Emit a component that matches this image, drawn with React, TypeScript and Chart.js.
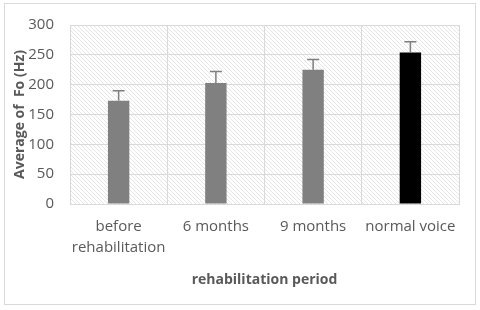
import React, { useEffect, useRef } from "react";
import { Chart, registerables } from "chart.js";

Chart.register(...registerables);

const categories: (string | string[])[] = [["before", "rehabilitation"], "6 months", "9 months", "normal voice"];
const means = [173, 203, 225, 254];
const errorTops = [190, 222, 242, 272];
const barColors = ["#808080", "#808080", "#808080", "#000000"];
const yTicks = [0, 50, 100, 150, 200, 250, 300];

const FONT = "'Open Sans', sans-serif";

function makeHatch(ctx: CanvasRenderingContext2D) {
  const c = document.createElement("canvas");
  c.width = 4;
  c.height = 4;
  const g = c.getContext("2d")!;
  g.fillStyle = "#ffffff";
  g.fillRect(0, 0, 4, 4);
  g.strokeStyle = "#e6e6e6";
  g.lineWidth = 1;
  g.beginPath();
  g.moveTo(0, 0);
  g.lineTo(4, 4);
  g.moveTo(-1, 3);
  g.lineTo(1, 5);
  g.moveTo(3, -1);
  g.lineTo(5, 1);
  g.stroke();
  return ctx.createPattern(c, "repeat");
}

const bgPlugin = {
  id: "bgPlugin",
  beforeDraw(chart: any) {
    const { ctx, chartArea } = chart;
    ctx.save();
    ctx.fillStyle = "#ffffff";
    ctx.fillRect(0, 0, chart.width, chart.height);
    ctx.strokeStyle = "#d9d9d9";
    ctx.lineWidth = 1;
    ctx.strokeRect(4.5, 3.5, 471, 301);
    const p = makeHatch(ctx);
    if (p) {
      ctx.fillStyle = p;
      ctx.fillRect(chartArea.left, chartArea.top, chartArea.right - chartArea.left, chartArea.bottom - chartArea.top);
    }
    ctx.restore();
  },
};

const errPlugin = {
  id: "errPlugin",
  afterDatasetsDraw(chart: any) {
    const { ctx } = chart;
    const meta = chart.getDatasetMeta(0);
    const ys = chart.scales.y;
    ctx.save();
    ctx.strokeStyle = "#7f7f7f";
    ctx.lineWidth = 1.5;
    meta.data.forEach((bar: any, i: number) => {
      const x = bar.x;
      const y0 = ys.getPixelForValue(means[i]);
      const y1 = ys.getPixelForValue(errorTops[i]);
      ctx.beginPath();
      ctx.moveTo(x, y0);
      ctx.lineTo(x, y1);
      ctx.moveTo(x - 6, y1);
      ctx.lineTo(x + 6, y1);
      ctx.stroke();
    });
    ctx.restore();
  },
};

export default function App() {
  const ref = useRef<HTMLCanvasElement>(null);
  useEffect(() => {
    const chart = new Chart(ref.current!, {
      type: "bar",
      data: {
        labels: categories as any,
        datasets: [
          {
            data: means,
            backgroundColor: barColors,
            borderWidth: 0,
            barPercentage: 0.22,
            categoryPercentage: 1,
          },
        ],
      },
      options: {
        animation: false,
        responsive: false,
        layout: { padding: { left: 12, right: 21, top: 24, bottom: 22 } },
        plugins: { legend: { display: false }, tooltip: { enabled: false } },
        scales: {
          x: {
            grid: { color: "#d9d9d9", drawTicks: false, offset: true },
            border: { display: true, color: "#d9d9d9" },
            ticks: {
              color: "#595959",
              font: { family: FONT, size: 15, lineHeight: 1.4 },
              padding: 12,
              maxRotation: 0,
            },
            title: {
              display: true,
              text: "rehabilitation period",
              color: "#595959",
              font: { family: FONT, size: 14, weight: "bold" },
              padding: 0,
            },
            afterFit: (s: any) => {
              s.height = 84;
            },
          },
          y: {
            min: 0,
            max: 300,
            afterBuildTicks: (s: any) => {
              s.ticks = yTicks.map((v) => ({ value: v }));
            },
            grid: { color: "#d9d9d9", drawTicks: false },
            border: { display: true, color: "#d9d9d9" },
            ticks: { color: "#595959", font: { family: FONT, size: 15 }, padding: 16 },
            title: {
              display: true,
              text: "Average of  Fo (Hz)",
              color: "#595959",
              font: { family: FONT, size: 14, weight: "bold" },
              padding: 0,
            },
            afterFit: (s: any) => {
              s.width = 58;
            },
          },
        },
      },
      plugins: [bgPlugin, errPlugin],
    });
    return () => chart.destroy();
  }, []);
  return (
    <div style={{ position: "absolute", left: 0, top: 0, width: 480, height: 310 }}>
      <canvas ref={ref} width={480} height={310} />
    </div>
  );
}
